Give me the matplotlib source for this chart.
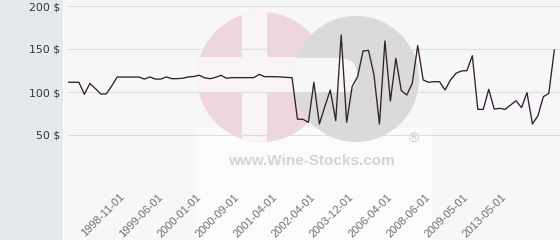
import matplotlib
matplotlib.use("Agg")
import matplotlib.pyplot as plt
from matplotlib.patches import Circle, Rectangle, FancyBboxPatch
from matplotlib.transforms import ScaledTranslation

# ---- data ----
prices = [111.3, 111.3, 111.3, 97.3, 110, 104, 97.7, 97.7, 107, 117.4,
          117.4, 117.4, 117.4, 117.4, 115, 117.5, 115, 115, 117.5, 115.5,
          115.5, 116, 117.5, 118, 119.5, 116.5, 115.5, 117, 119.4, 116,
          116.7, 116.7, 116.7, 116.7, 116.7, 120.5, 117.8, 117.8, 117.8, 117.5,
          117, 116.7, 68.3, 68.3, 64.7, 111.3, 62.8, 83, 102.3, 66.7,
          166.3, 64.7, 106.2, 117.8, 147.7, 148.4, 119.8, 62.8, 159.3, 89.5,
          139.2, 101.6, 96.5, 110, 153.9, 114, 111.3, 112, 112, 102.3,
          114, 121.7, 124.5, 124.8, 142.2, 79.8, 79.8, 103.1, 80.2, 81,
          79.8, 84.9, 89.9, 81.8, 99.2, 62.8, 72.4, 94.5, 98.5, 148.8]
tick_labels = ["1998-11-01", "1999-06-01", "2000-01-01", "2000-09-01", "2001-04-01",
               "2002-04-01", "2003-12-01", "2006-04-01", "2008-06-01", "2009-05-01",
               "2013-05-01"]
first_tick = 11
tick_step = 7
y_ticks = [0, 50, 100, 150, 200]
y_labels = ["", "50 $", "100 $", "150 $", "200 $"]

W, H = 560, 240
fig = plt.figure(figsize=(W / 100, H / 100), dpi=100)
fig.patch.set_facecolor("#f7f7fa")

# background layer (pixel coordinates)
bg = fig.add_axes([0, 0, 1, 1], zorder=0)
bg.set_xlim(0, W)
bg.set_ylim(H, 0)
bg.axis("off")
bg.add_patch(Rectangle((0, 0), 63, H, color="#e6e9ec", lw=0))
bg.add_patch(Rectangle((63, 0), 1.2, H, color="#ffffff", lw=0))

# watermark
bg.add_patch(Rectangle((197, 128), 235, 112, color="#fbfbfc", lw=0))
pink = Circle((262, 77), 65, color="#efd6dc", lw=0)
bg.add_patch(pink)
for r in [Rectangle((242, 0), 25, 240, color="#f9f4f6", lw=0),
          Rectangle((180, 57), 160, 36, color="#f9f4f6", lw=0)]:
    bg.add_patch(r)
    r.set_clip_path(pink)
gray = Circle((356, 79), 63, color="#dadada", lw=0)
bg.add_patch(gray)
cut = FancyBboxPatch((285, 58), 72, 35, boxstyle="round,pad=0,rounding_size=17",
                     color="#f7f7f7", lw=0)
bg.add_patch(cut)
cut.set_clip_path(gray)
bg.text(311, 161, "www.Wine-Stocks.com", ha="center", va="center", fontsize=11,
        fontweight="bold", color="#d4d4d4", family="Liberation Sans")
bg.text(413, 139, "\u00ae", ha="center", va="center", fontsize=10,
        color="#d0d0d0", family="DejaVu Sans")

# main chart
left, right, top, bottom = 67.5, 560, 0, 178
ax = fig.add_axes([left / W, (H - bottom) / H, (right - left) / W, (bottom - top) / H], zorder=1)
ax.patch.set_alpha(0)
x = list(range(len(prices)))
ax.plot(x, prices, color="#33202a", lw=0.95, zorder=3)

px_per_unit = 5.464
ax.set_xlim(-0.5 / px_per_unit, (right - left - 0.5) / px_per_unit)
ax.set_ylim(0, 200 * 178 / 172)

ax.set_yticks(y_ticks)
ax.set_yticklabels(y_labels, fontsize=7.8, color="#333333", family="DejaVu Sans")
ticks = [first_tick + tick_step * k for k in range(len(tick_labels))]
ax.set_xticks(ticks)
ax.set_xticklabels(tick_labels, rotation=45, ha="right", va="top", fontsize=8,
                   color="#707070", family="Liberation Sans")
ax.tick_params(axis="both", length=0)
ax.tick_params(axis="y", pad=5.4)
ax.tick_params(axis="x", pad=10)
off = ScaledTranslation(-2 / 100, 0, fig.dpi_scale_trans)
for lab in ax.get_xticklabels():
    lab.set_transform(lab.get_transform() + off)

ax.yaxis.grid(True, color="#dedede", lw=0.8, zorder=0)
ax.xaxis.grid(False)
for s in ax.spines.values():
    s.set_visible(False)

fig.savefig("out.png", dpi=100, facecolor=fig.get_facecolor())
